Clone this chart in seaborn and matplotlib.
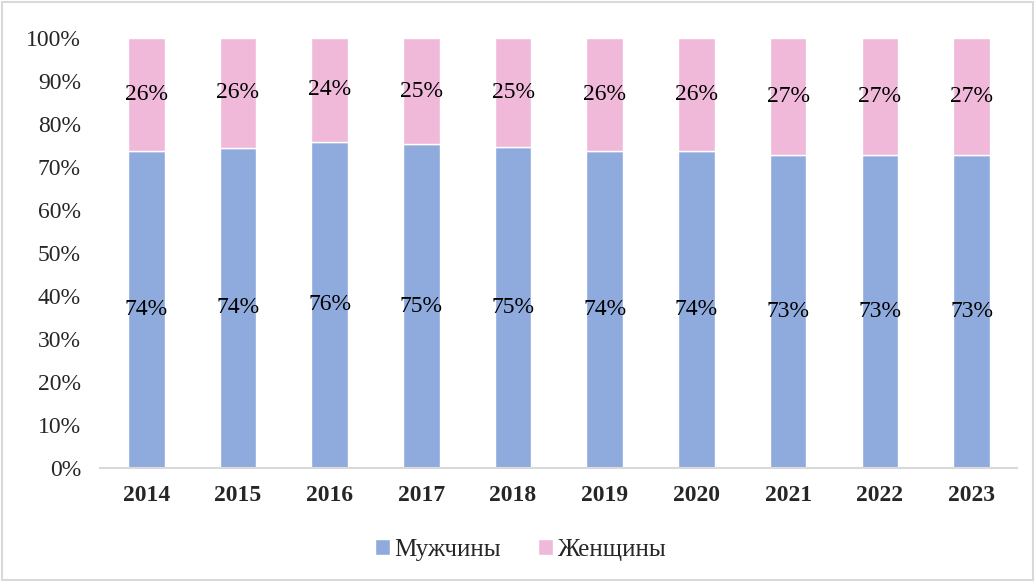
import pandas as pd
import matplotlib.pyplot as plt
import seaborn as sns
from matplotlib.patches import Rectangle, Patch

# data (share, %)
years = ['2014', '2015', '2016', '2017', '2018', '2019', '2020', '2021', '2022', '2023']
men = [73.8, 74.4, 75.8, 75.2, 74.6, 73.8, 73.8, 72.8, 72.8, 72.8]
women = [26.2, 25.6, 24.2, 24.8, 25.4, 26.2, 26.2, 27.2, 27.2, 27.2]
series = ['Мужчины', 'Женщины']
colors = ['#8FAADC', '#F0B9D9']

df = pd.DataFrame({'year': years, 'men': men, 'women': women})

sns.set_style('white')
plt.rcParams['font.family'] = ['Liberation Serif', 'DejaVu Serif']

fig = plt.figure(figsize=(10.35, 5.82), dpi=100)
ax = fig.add_axes([0.097, 0.196, 0.886, 0.739])

sns.barplot(data=df, x='year', y='men', color=colors[0], width=0.4,
            saturation=1, ax=ax)
sns.barplot(data=df, x='year', y='women', bottom=df['men'], color=colors[1],
            width=0.4, saturation=1, ax=ax)

for cont in ax.containers:
    vals = [round(p.get_height()) for p in cont]
    ax.bar_label(cont, labels=[f'{v}%' for v in vals], label_type='center',
                 fontsize=17, color='black')

ax.set_ylim(0, 100)
ax.set_yticks(range(0, 101, 10))
ax.set_yticklabels([f'{v}%' for v in range(0, 101, 10)], fontsize=17)
ax.set_xlim(-0.5, len(years) - 0.5)
for lbl in ax.get_xticklabels():
    lbl.set_fontsize(17)
    lbl.set_fontweight('bold')
ax.set_xlabel('')
ax.set_ylabel('')
ax.tick_params(axis='both', length=0)
ax.tick_params(axis='x', pad=12)
ax.tick_params(axis='y', pad=14)
for s in ['top', 'right', 'left']:
    ax.spines[s].set_visible(False)
ax.spines['bottom'].set_color('#D9D9D9')
ax.spines['bottom'].set_linewidth(1.5)

handles = [Patch(facecolor=c, label=s) for c, s in zip(colors, series)]
fig.legend(handles=handles, loc='center', bbox_to_anchor=(0.503, 0.055), ncol=2,
           frameon=False, fontsize=18, handlelength=0.6, handleheight=0.6,
           handletextpad=0.15, columnspacing=1.5)

fig.patches.append(Rectangle((0.002, 0.003), 0.996, 0.994, transform=fig.transFigure,
                             fill=False, edgecolor='#D9D9D9', linewidth=1.5))

fig.savefig('out.png', dpi=100)
